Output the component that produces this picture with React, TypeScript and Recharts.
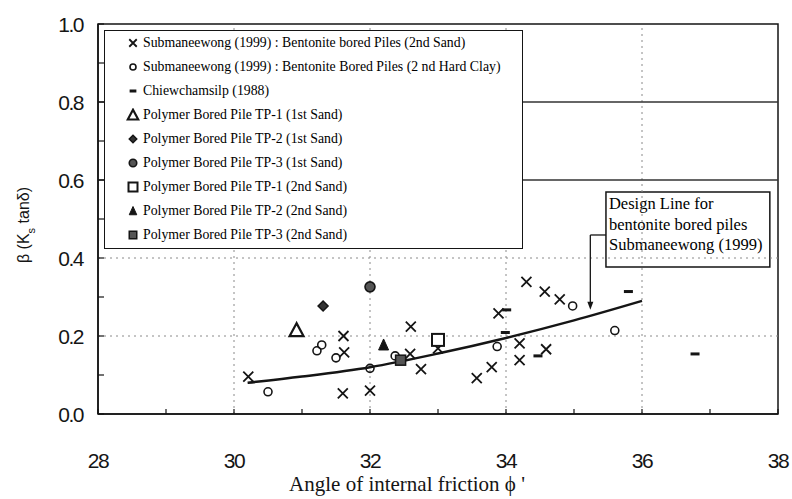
import React from 'react';
import {
  ComposedChart,
  Scatter,
  Line,
  XAxis,
  YAxis,
  ReferenceLine,
  ReferenceArea,
  ReferenceDot,
  Legend,
  Label
} from 'recharts';

// values: [phi', beta]
const bentoniteSand = [
  [30.21, 0.096], [31.61, 0.2], [31.62, 0.158], [31.6, 0.053], [32.0, 0.06],
  [32.6, 0.224], [32.59, 0.154], [32.75, 0.115], [33.0, 0.168], [33.57, 0.092],
  [33.79, 0.12], [33.89, 0.258], [34.2, 0.181], [34.2, 0.138], [34.3, 0.339],
  [34.57, 0.314], [34.79, 0.294], [34.59, 0.166]
];
const bentoniteClay = [
  [30.5, 0.057], [31.22, 0.162], [31.29, 0.177], [31.5, 0.144], [32.0, 0.117],
  [32.37, 0.149], [33.87, 0.173], [34.98, 0.277], [35.6, 0.214]
];
const chiewchamsilp = [
  [34.01, 0.267], [33.99, 0.209], [34.47, 0.149], [35.8, 0.314], [36.78, 0.154]
];
const tp1FirstSand = [[30.92, 0.215]];
const tp2FirstSand = [[31.31, 0.277]];
const tp3FirstSand = [[32.0, 0.326]];
const tp1SecondSand = [[33.0, 0.19]];
const tp2SecondSand = [[32.2, 0.177]];
const tp3SecondSand = [[32.45, 0.138]];

const designPhi = [30.2, 31, 32, 33, 34, 35, 36];
const designBeta = [0.08, 0.096, 0.12, 0.155, 0.195, 0.24, 0.29];

const phiTicks = [28, 29, 30, 31, 32, 33, 34, 35, 36, 37, 38];
const betaTicks = [0, 0.1, 0.2, 0.3, 0.4, 0.5, 0.6, 0.7, 0.8, 0.9, 1.0];

const toPts = (arr: number[][]) => arr.map(([x, y]) => ({ x, y }));
const designLine = designPhi.map((x, i) => ({ x, y: designBeta[i] }));

const INK = '#151515';

// marker shapes
const cross = (s = 1) => (p: any) => {
  const { cx, cy } = p;
  const d = 5 * s;
  return <path d={`M${cx - d},${cy - d}L${cx + d},${cy + d}M${cx + d},${cy - d}L${cx - d},${cy + d}`} stroke={INK} strokeWidth={1.8} fill="none" />;
};
const openCircle = (s = 1) => (p: any) => <circle cx={p.cx} cy={p.cy} r={4 * s} stroke={INK} strokeWidth={1.6} fill="none" />;
const dash = (s = 1) => (p: any) => <rect x={p.cx - 4.5 * s} y={p.cy - 1.5} width={9 * s} height={3} fill={INK} />;
const openTriangle = (s = 1) => (p: any) => {
  const { cx, cy } = p;
  return <polygon points={`${cx},${cy - 7 * s} ${cx - 7 * s},${cy + 6 * s} ${cx + 7 * s},${cy + 6 * s}`} stroke={INK} strokeWidth={2.2} fill="#fff" />;
};
const filledDiamond = (s = 1) => (p: any) => {
  const { cx, cy } = p;
  const d = 5 * s;
  return <polygon points={`${cx},${cy - d} ${cx + d},${cy} ${cx},${cy + d} ${cx - d},${cy}`} stroke={INK} strokeWidth={1.5} fill="#333" />;
};
const filledCircle = (s = 1) => (p: any) => <circle cx={p.cx} cy={p.cy} r={5 * s} stroke={INK} strokeWidth={1.6} fill="#555" />;
const openSquare = (s = 1) => (p: any) => <rect x={p.cx - 6 * s} y={p.cy - 6 * s} width={12 * s} height={12 * s} stroke={INK} strokeWidth={2} fill="#fff" />;
const filledTriangle = (s = 1) => (p: any) => {
  const { cx, cy } = p;
  return <polygon points={`${cx},${cy - 6 * s} ${cx - 5 * s},${cy + 5 * s} ${cx + 5 * s},${cy + 5 * s}`} fill={INK} stroke={INK} strokeWidth={1} />;
};
const filledSquare = (s = 1) => (p: any) => <rect x={p.cx - 5 * s} y={p.cy - 5 * s} width={10 * s} height={10 * s} stroke={INK} strokeWidth={1.5} fill="#555" />;

const series = [
  { name: 'Submaneewong (1999) : Bentonite bored Piles (2nd Sand)', data: bentoniteSand, shape: cross },
  { name: 'Submaneewong (1999) : Bentonite Bored Piles (2 nd Hard Clay)', data: bentoniteClay, shape: openCircle },
  { name: 'Chiewchamsilp (1988)', data: chiewchamsilp, shape: dash },
  { name: 'Polymer Bored Pile TP-1 (1st Sand)', data: tp1FirstSand, shape: openTriangle },
  { name: 'Polymer Bored Pile TP-2 (1st Sand)', data: tp2FirstSand, shape: filledDiamond },
  { name: 'Polymer Bored Pile TP-3 (1st Sand)', data: tp3FirstSand, shape: filledCircle },
  { name: 'Polymer Bored Pile TP-1 (2nd Sand)', data: tp1SecondSand, shape: openSquare },
  { name: 'Polymer Bored Pile TP-2 (2nd Sand)', data: tp2SecondSand, shape: filledTriangle },
  { name: 'Polymer Bored Pile TP-3 (2nd Sand)', data: tp3SecondSand, shape: filledSquare }
];

const tickFont = "'Liberation Sans Narrow', 'Liberation Sans', Arial, sans-serif";
const serif = "'Liberation Serif', 'Times New Roman', serif";

const YTick = (props: any) => {
  const { x, y, payload } = props;
  const v = payload.value;
  const major = Math.round(v * 10) % 2 === 0;
  return (
    <g>
      <line x1={x} x2={x + 6} y1={y} y2={y} stroke={INK} strokeWidth={1.2} />
      {major && (
        <text x={x - 15} y={y} textAnchor="end" dominantBaseline="central" fontFamily={tickFont} fontSize={21} letterSpacing={-1.5} fill={INK}>
          {v.toFixed(1)}
        </text>
      )}
    </g>
  );
};

const XTick = (props: any) => {
  const { x, y, payload } = props;
  const v = payload.value;
  return (
    <g>
      <line x1={x} x2={x} y1={y} y2={y - 5} stroke={INK} strokeWidth={1.2} />
      {v % 2 === 0 && (
        <text x={x} y={y + 46} textAnchor="middle" dominantBaseline="central" fontFamily={tickFont} fontSize={21} letterSpacing={-1.5} fill={INK}>
          {v}
        </text>
      )}
    </g>
  );
};

const LegendBox = () => (
  <div
    style={{
      width: 419,
      height: 219,
      boxSizing: 'border-box',
      border: `1.5px solid ${INK}`,
      background: '#fff',
      fontFamily: serif,
      fontSize: 13.8,
      color: '#000'
    }}
  >
    {series.map((s) => (
      <div key={s.name} style={{ height: 24, lineHeight: '24px', display: 'flex', alignItems: 'center', whiteSpace: 'nowrap' }}>
        <svg width={14} height={14} style={{ marginLeft: 21, marginRight: 3, flex: 'none' }}>
          {s.shape(0.75)({ cx: 7, cy: 7 })}
        </svg>
        <span>{s.name}</span>
      </div>
    ))}
  </div>
);

const AnnotationText = (props: any) => {
  const { viewBox } = props;
  const { x, y } = viewBox;
  const lines = ['Design Line for', 'bentonite bored piles', 'Submaneewong (1999)'];
  return (
    <g>
      {lines.map((t, i) => (
        <text key={t} x={x + 3} y={y + 17 + i * 20.5} fontFamily={serif} fontSize={16.5} fill="#000">
          {t}
        </text>
      ))}
    </g>
  );
};

const arrowHead = (p: any) => {
  const { cx, cy } = p;
  return <polygon points={`${cx - 3},${cy - 8} ${cx + 3},${cy - 8} ${cx},${cy}`} fill={INK} />;
};

const YTitle = () => (
  <text transform="translate(29,225) rotate(-90)" textAnchor="middle" fontFamily="'Liberation Sans', Arial, sans-serif" fontSize={16} fill={INK}>
    β (K<tspan baselineShift="sub" fontSize={11}>s</tspan> tanδ)
  </text>
);

const XTitle = () => (
  <text x={407} y={491} textAnchor="middle" fontFamily={serif} fontSize={21} fill={INK}>
    Angle of internal friction ϕ '
  </text>
);

export default function App() {
  return (
    <div style={{ position: 'absolute', left: 0, top: 0, width: 792, height: 499, background: '#fff', overflow: 'hidden' }}>
      <ComposedChart width={792} height={499} margin={{ top: 24, right: 14, bottom: 0, left: 0 }}>
        <XAxis
          dataKey="x"
          type="number"
          domain={[28, 38]}
          ticks={phiTicks}
          interval={0}
          tickSize={0}
          tickMargin={0}
          tick={<XTick />}
          height={85}
          axisLine={{ stroke: INK, strokeWidth: 1.5 }}
          allowDataOverflow
        >
          <Label content={<XTitle />} />
        </XAxis>
        <YAxis
          dataKey="y"
          type="number"
          domain={[0, 1]}
          ticks={betaTicks}
          interval={0}
          tickSize={0}
          tickMargin={0}
          tick={<YTick />}
          width={98}
          axisLine={{ stroke: INK, strokeWidth: 1.5 }}
          allowDataOverflow
        >
          <Label content={<YTitle />} />
        </YAxis>

        {[30, 32, 34, 36].map((v) => (
          <ReferenceLine key={`vx${v}`} x={v} stroke="#8a8a8a" strokeDasharray="2 4" />
        ))}
        {[0.2, 0.4].map((v) => (
          <ReferenceLine key={`hy${v}`} y={v} stroke="#8a8a8a" strokeDasharray="2 4" />
        ))}
        {[0.6, 0.8].map((v) => (
          <ReferenceLine key={`sy${v}`} y={v} stroke="#333" strokeWidth={1.3} />
        ))}
        <ReferenceArea x1={28} x2={38} y1={0} y2={1} fill="none" stroke={INK} strokeWidth={1.5} fillOpacity={0} />

        <Line
          data={designLine}
          dataKey="y"
          type="monotone"
          stroke={INK}
          strokeWidth={2.5}
          dot={false}
          legendType="none"
          isAnimationActive={false}
        />
        {series.map((s) => (
          <Scatter key={s.name} name={s.name} data={toPts(s.data)} shape={s.shape(1)} isAnimationActive={false} />
        ))}

        <ReferenceArea
          x1={35.47}
          x2={37.88}
          y1={0.377}
          y2={0.569}
          fill="#fff"
          fillOpacity={1}
          stroke={INK}
          strokeWidth={1.5}
          label={<AnnotationText />}
        />
        <ReferenceLine segment={[{ x: 35.24, y: 0.459 }, { x: 35.47, y: 0.459 }]} stroke={INK} strokeWidth={1.3} />
        <ReferenceLine segment={[{ x: 35.24, y: 0.459 }, { x: 35.24, y: 0.28 }]} stroke={INK} strokeWidth={1.3} />
        <ReferenceDot x={35.24} y={0.267} shape={arrowHead} />

        <Legend
          layout="vertical"
          align="center"
          verticalAlign="middle"
          width={419}
          height={219}
          content={() => <LegendBox />}
          wrapperStyle={{ left: 104, top: 30, width: 419, height: 219 }}
        />
      </ComposedChart>
    </div>
  );
}
